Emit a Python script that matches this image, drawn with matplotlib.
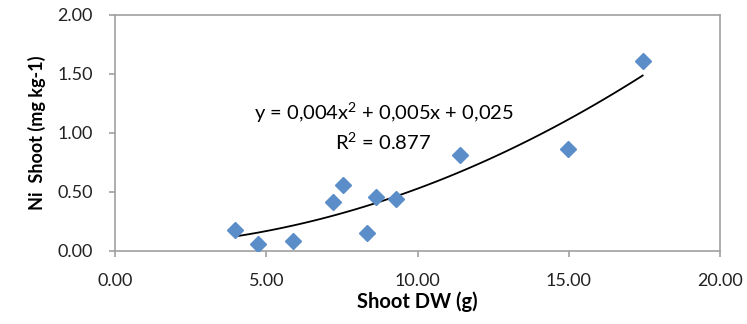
import numpy as np
from matplotlib import pyplot as plt

# shoot dry weight (g) and Ni in shoot (mg kg-1)
shoot_dw = [3.97, 4.73, 5.88, 7.20, 7.54, 8.33, 8.61, 9.30, 11.39, 14.96, 17.44]
ni_shoot = [0.18, 0.06, 0.08, 0.41, 0.56, 0.15, 0.46, 0.44, 0.81, 0.86, 1.61]

x_ticks = [0, 5, 10, 15, 20]
y_ticks = [0, 0.5, 1.0, 1.5, 2.0]

eq_text = "y = 0,004x$^2$ + 0,005x + 0,025"
r2_text = "R$^2$ = 0.877"


def main():
    plt.rcParams['font.family'] = ['Lato', 'DejaVu Sans']
    plt.rcParams['mathtext.fontset'] = 'custom'
    plt.rcParams['mathtext.rm'] = 'Lato'

    fig = plt.figure(figsize=(7.47, 3.24), dpi=100)
    ax = fig.add_axes([0.154, 0.226, 0.81, 0.728])

    x = np.array(shoot_dw)
    y = np.array(ni_shoot)
    coef = np.polyfit(x, y, 2)
    xs = np.linspace(x.min(), x.max(), 100)
    ax.plot(xs, np.polyval(coef, xs), color="black", lw=1.3, zorder=2)

    ax.plot(x, y, "D", color="#5B8DC9", ms=7.8, mec="#5B8DC9", zorder=3)

    ax.text(8.87, 1.17, eq_text, ha="center", va="center", fontsize=14.5)
    ax.text(8.87, 0.92, r2_text, ha="center", va="center", fontsize=14.5)

    ax.set_xlim(0, 20)
    ax.set_ylim(0, 2)
    ax.set_xticks(x_ticks)
    ax.set_yticks(y_ticks)
    ax.set_xticklabels(["%.2f" % v for v in x_ticks])
    ax.set_yticklabels(["%.2f" % v for v in y_ticks])

    for s in ax.spines.values():
        s.set_color("#A0A0A0")
        s.set_linewidth(1.2)
    ax.tick_params(axis="both", colors="#A0A0A0", length=4, width=1.2,
                   labelsize=13, labelcolor="#222222")
    ax.tick_params(axis="x", pad=12)
    ax.tick_params(axis="y", pad=12)

    ax.set_xlabel("Shoot DW (g)", fontsize=14.5, fontweight="bold", labelpad=2)
    ax.set_ylabel("Ni  Shoot (mg kg-1)", fontsize=13, fontweight="bold", labelpad=8)

    plt.savefig("out.png", dpi=100)


if __name__ == "__main__":
    main()
